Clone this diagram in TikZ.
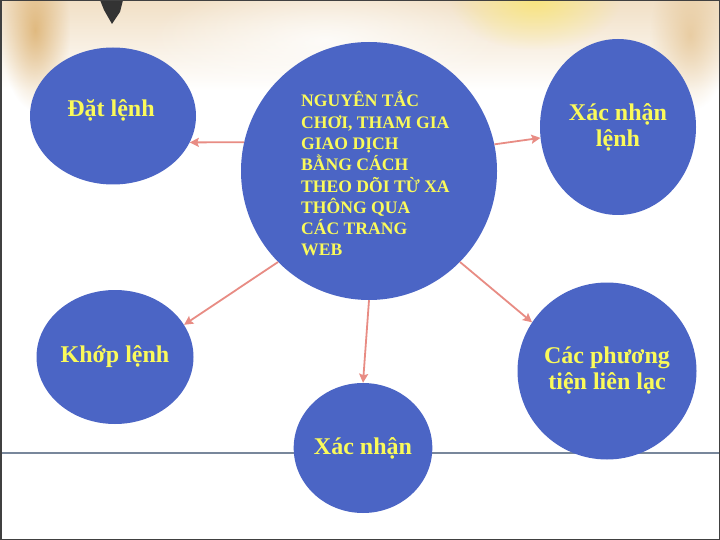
\documentclass[tikz,border=0pt]{standalone}
\usepackage{fontspec}
\setmainfont{Liberation Serif}
\usetikzlibrary{fadings,arrows.meta,shapes.geometric}
\tikzfading[name=softout, inner color=transparent!0, outer color=transparent!100]
\definecolor{blob}{RGB}{75,101,197}
\definecolor{txt}{RGB}{250,250,90}
\definecolor{arr}{RGB}{232,140,132}
\definecolor{rule}{RGB}{120,135,155}
\definecolor{warm}{RGB}{215,165,90}
\definecolor{sun}{RGB}{250,230,110}
\tikzset{
  bubble/.style={ellipse, fill=blob, draw=none, inner sep=0pt, text=txt,
    font=\fontsize{24}{26}\selectfont\bfseries, align=center},
  conn/.style={draw=arr, line width=1.8pt, -{Stealth[length=9pt,width=9pt,inset=1.5pt]}},
}
\begin{document}
\begin{tikzpicture}[x=1pt,y=-1pt]
\useasboundingbox (0,0) rectangle (720,540);
% background
\fill[white] (0,0) rectangle (720,540);
\fill[top color=warm!35!white, bottom color=white] (0,0) rectangle (720,90);
\fill[warm, opacity=0.7, path fading=softout] (0,-50) rectangle (70,110);
\fill[sun, opacity=0.8, path fading=softout] (450,-50) rectangle (620,50);
\fill[warm!70!white, opacity=0.7, path fading=softout] (650,-40) rectangle (730,110);
\fill[white, opacity=0.8, path fading=softout] (150,-20) rectangle (500,100);
\fill[black!80] (100,0) -- (123,0) -- (120,12) -- (112,24) -- (104,10) -- cycle;
\draw[rule, line width=1.6pt] (0,453) -- (720,453);
% circles
\node[bubble, minimum width=256pt, minimum height=258pt] (c) at (369,171) {};
\node[font=\fontsize{17.6}{21.3}\selectfont\bfseries, text=txt, align=left, anchor=north west, inner sep=0pt]
  (ct) at (301,91) {NGUYÊN TẮC\\CHƠI, THAM GIA\\GIAO DỊCH\\BẰNG CÁCH\\THEO DÕI TỪ XA\\THÔNG QUA\\CÁC TRANG\\WEB};
\node[bubble, minimum width=166pt, minimum height=137pt] (d) at (113,116) {};
\node[text=txt, font=\fontsize{24}{26}\selectfont\bfseries] (dt) at (111,110) {Đặt lệnh};
\node[bubble, minimum width=156pt, minimum height=176pt] (x) at (618,127) {Xác nhận\\lệnh};
\node[bubble, minimum width=157pt, minimum height=134pt] (k) at (115,357) {Khớp lệnh};
\node[bubble, minimum width=179pt, minimum height=177pt] (p) at (607,371) {Các phương\\tiện liên lạc};
\node[bubble, minimum width=136pt, minimum height=130pt] (n) at (363,448) {Xác nhận};
% connectors
\draw[conn] (c.167.7) -- (d.-19.3);
\draw[conn] (c.225.3) -- (k.25.6);
\draw[conn] (c.12.3) -- (x.188.6);
\draw[conn] (c.-45) -- (p.147);
\draw[conn] (c.-90) -- (n.north);
% frame
\draw[black!75, line width=1.5pt] (0.75,0.75) rectangle (719.25,539.25);
\end{tikzpicture}
\end{document}
